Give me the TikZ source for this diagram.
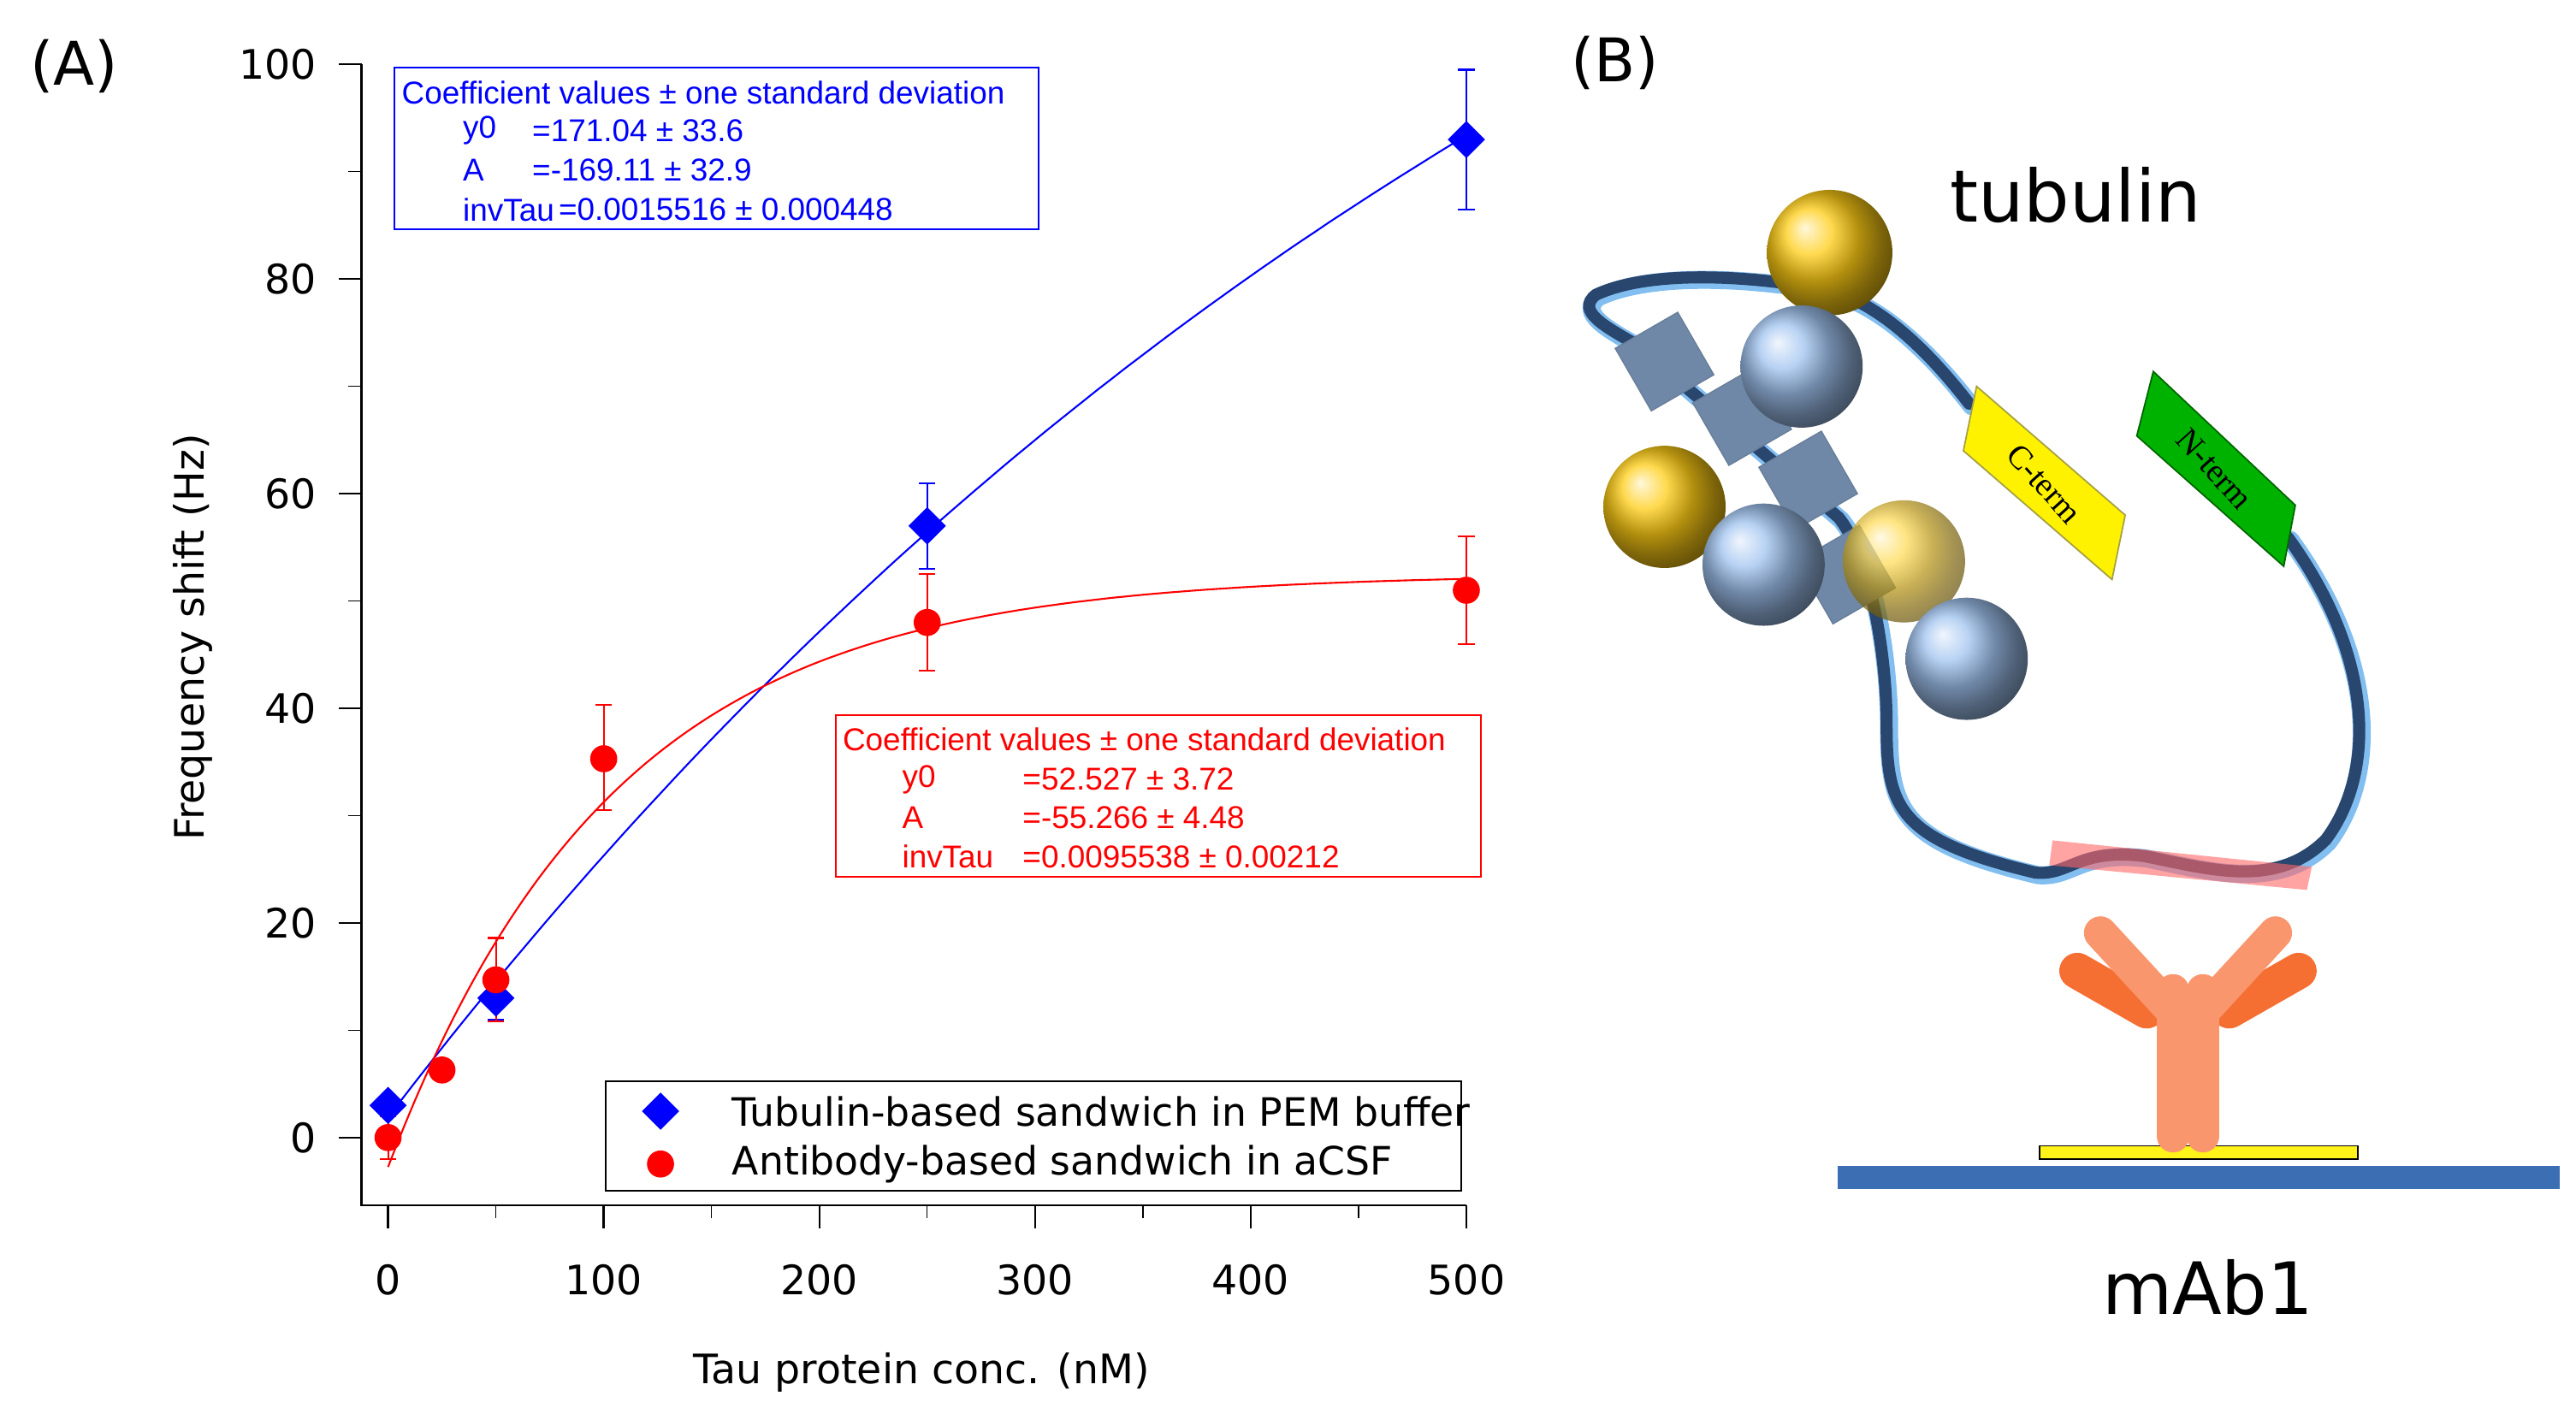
\documentclass[tikz,border=0pt]{standalone}
\usepackage{fontspec}
\setmainfont{DejaVu Sans}
\newfontfamily\boxf{Liberation Sans}
\newfontfamily\serifb{Liberation Serif}
\usetikzlibrary{shapes.geometric}
\definecolor{gold}{RGB}{255,205,20}
\definecolor{sb}{RGB}{160,195,240}
\definecolor{tubed}{RGB}{40,70,110}
\definecolor{tubel}{RGB}{130,190,240}
\definecolor{stemc}{RGB}{250,150,110}
\definecolor{armc}{RGB}{245,110,50}
\definecolor{base}{RGB}{60,110,180}
\begin{document}
\begin{tikzpicture}[x=0.0193cm,y=-0.0193cm,
 tick/.style={font=\fontsize{13.5}{16}\selectfont},
 box/.style={font=\boxf\fontsize{10.5}{12}\selectfont,anchor=west,inner sep=0},
 bd/.style={diamond,fill=blue,draw=blue,minimum size=12pt,inner sep=0},
 rd/.style={circle,fill=red,minimum size=9pt,inner sep=0},
 cube/.style={fill=sb!70!black,draw=tubed!70,line width=0.4pt}]
\useasboundingbox (0,0) rectangle (1560,860);
% axes
\draw[line width=0.7pt] (219,39) -- (219,730) -- (888,730);
\foreach \v in {0,20,...,100}{\draw[line width=0.7pt] (219,{689-\v*6.5}) -- (205,{689-\v*6.5});
 \node[tick,anchor=east] at (198,{689-\v*6.5}) {\v};}
\foreach \v in {10,30,...,90}{\draw (219,{689-\v*6.5}) -- (211,{689-\v*6.5});}
\foreach \v in {0,100,...,500}{\draw[line width=0.7pt] ({235+\v*1.306},730) -- ({235+\v*1.306},744);
 \node[tick] at ({235+\v*1.306},775) {\v};}
\foreach \v in {50,150,...,450}{\draw ({235+\v*1.306},730) -- ({235+\v*1.306},738);}
\node[tick,rotate=90] (yl) at (117,386) {Frequency shift (Hz)};
\node[tick] (xl) at (558,831) {Tau protein conc. (nM)};
\node[font=\fontsize{20}{22}\selectfont] (A) at (45,40) {(A)};
% fits
\draw[blue,line width=0.6pt] plot[domain=0:500,samples=80,smooth] ({235+\x*1.306},{689-(171.04-169.11*exp(-0.0015516*\x))*6.5});
\draw[red,line width=0.6pt] plot[domain=0:500,samples=80,smooth] ({235+\x*1.306},{689-(52.527-55.266*exp(-0.0095538*\x))*6.5});
% error bars
\foreach \xv/\lo/\hi/\c in {250/53/61/blue,500/86.5/99.5/blue,50/11/15/blue,0/-2/2/red,50/10.8/18.6/red,100/30.5/40.3/red,250/43.5/52.5/red,500/46/56/red}{
 \draw[\c,line width=0.6pt] ({235+\xv*1.306},{689-\lo*6.5}) -- ({235+\xv*1.306},{689-\hi*6.5});
 \draw[\c,line width=0.6pt] ({235+\xv*1.306-5},{689-\lo*6.5}) -- ({235+\xv*1.306+5},{689-\lo*6.5});
 \draw[\c,line width=0.6pt] ({235+\xv*1.306-5},{689-\hi*6.5}) -- ({235+\xv*1.306+5},{689-\hi*6.5});}
\foreach \xv/\yv [count=\i] in {0/3,50/13,250/57,500/93}{\node[bd] (b\i) at ({235+\xv*1.306},{689-\yv*6.5}) {};}
\foreach \xv/\yv [count=\i] in {0/0,25/6.3,50/14.7,100/35.3,250/48,500/51}{\node[rd] (r\i) at ({235+\xv*1.306},{689-\yv*6.5}) {};}
% blue box
\draw[blue,line width=0.6pt] (239,41) rectangle (629,139);
\begin{scope}[blue]
\node[box] at (243,56) {Coefficient values ± one standard deviation};
\node[box] at (280,79) {y0}; \node[box] at (322,79) {=171.04 ± 33.6};
\node[box] at (280,103) {A}; \node[box] at (322,103) {=-169.11 ± 32.9};
\node[box] at (280,127) {invTau}; \node[box] at (338,127) {=0.0015516 ± 0.000448};
\end{scope}
\draw[red,line width=0.6pt] (506,433) rectangle (897,531);
\begin{scope}[red]
\node[box] at (510,448) {Coefficient values ± one standard deviation};
\node[box] at (546,472) {y0}; \node[box] at (619,472) {=52.527 ± 3.72};
\node[box] at (546,495) {A}; \node[box] at (619,495) {=-55.266 ± 4.48};
\node[box] at (546,519) {invTau}; \node[box] at (619,519) {=0.0095538 ± 0.00212};
\end{scope}
% legend
\draw[line width=0.6pt] (367,655) rectangle (885,721);
\node[bd] (lb) at (400,673) {}; \node[rd] (lr) at (400,705) {};
\node[tick,anchor=west,font=\fontsize{13}{15}\selectfont] at (437,673) {Tubulin-based sandwich in PEM buffer};
\node[tick,anchor=west,font=\fontsize{13}{15}\selectfont] at (437,705) {Antibody-based sandwich in aCSF};
% panel B
\node[font=\fontsize{20}{22}\selectfont] (B) at (978,38) {(B)};
\node[font=\fontsize{24}{26}\selectfont] (tub) at (1257,118) {tubulin};
\node[font=\fontsize{24}{26}\selectfont] (mab) at (1337,780) {mAb1};
\fill[base] (1113,706) rectangle (1550,720);
\fill[yellow!90!white,draw=black,line width=0.5pt] (1235,694) rectangle (1428,702);
% antibody
\begin{scope}[line cap=round]
\draw[armc,line width=12pt] (1300,612) -- (1258,588);
\draw[armc,line width=12pt] (1350,612) -- (1392,588);
\draw[stemc,line width=11pt] (1318,615) -- (1272,565);
\draw[stemc,line width=11pt] (1332,615) -- (1378,565);
\draw[stemc,line width=11pt] (1316,600) -- (1316,688);
\draw[stemc,line width=11pt] (1334,600) -- (1334,688);
\end{scope}
% tube
\def\tube{(1194,246) .. controls (1170,215) and (1140,185) .. (1108,177) .. controls (1060,168) and (1000,165) .. (968,180) .. controls (955,190) and (975,200) .. (992,210) -- (1115,315) .. controls (1135,340) and (1144,400) .. (1144,440) .. controls (1144,490) and (1150,510) .. (1234,530) .. controls (1255,532) and (1260,515) .. (1300,520) .. controls (1340,528) and (1380,540) .. (1410,510) .. controls (1440,470) and (1440,400) .. (1387,327)}
\draw[tubel,line width=6pt,line cap=round] \tube;
\draw[tubed,line width=4pt,line cap=round,shift={(-1.5,-1.5)}] \tube;
\fill[red!60,opacity=0.6] (1243,509) -- (1400,525) -- (1397,539) -- (1241,524) -- cycle;
% cubes
\foreach \p/\i in {(1008,219)/1,(1055,252)/2,(1095,291)/3,(1118,348)/4}{
 \node[cube,minimum size=24pt,rotate=30,inner sep=0] (c\i) at \p {};}
% spheres
\shade[ball color=gold] (1108,153) circle (38);
\shade[ball color=sb] (1091,222) circle (37);
\shade[ball color=gold] (1008,307) circle (37);
\shade[ball color=sb] (1068,342) circle (37);
\shade[ball color=gold,opacity=0.7] (1153,340) circle (37);
\shade[ball color=sb] (1191,399) circle (37);
% labels
\fill[yellow,draw=yellow!60!black,line width=0.5pt] (1197,234) -- (1287,312) -- (1279,351) -- (1189,273) -- cycle;
\node[font=\serifb\fontsize{11}{12}\selectfont,rotate=-48,inner sep=0] (ct) at (1238,293) {C-term};
\fill[green!70!black,draw=green!40!black,line width=0.5pt] (1304,225) -- (1390,306) -- (1383,343) -- (1294,264) -- cycle;
\node[font=\serifb\fontsize{11}{12}\selectfont,rotate=-48,inner sep=0] (nt) at (1341,284) {N-term};
\end{tikzpicture}
\end{document}
